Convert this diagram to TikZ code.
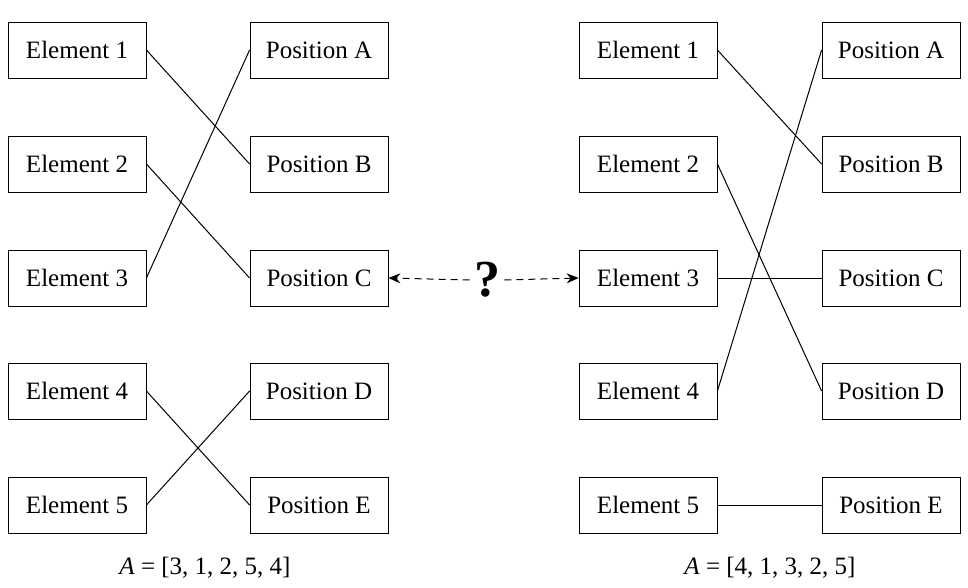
\documentclass[tikz,border=0pt]{standalone}
\usepackage{fontspec}
\setmainfont{Liberation Serif}
\usetikzlibrary{arrows.meta}
\tikzset{
  box/.style={draw, minimum width=69pt, minimum height=28pt, inner sep=0pt,
    font=\fontsize{12.5}{15}\selectfont},
  link/.style={line width=0.5pt},
  ask/.style={dash pattern=on 3.5pt off 2.5pt, line width=0.5pt,
    -{Stealth[length=6pt,width=5pt,inset=2pt]}}
}
\begin{document}
\begin{tikzpicture}[x=0.5pt,y=-0.5pt]
        \useasboundingbox (0,0) rectangle (968,588);

        % Boxes on both sides
        \foreach \i/\y/\p in {1/50/A,2/164/B,3/278/C,4/391/D,5/505/E} {
            \node[box] (le\i) at (77,\y) {Element \i};
            \node[box] (lp\p) at (319,\y) {Position \p};
            \node[box] (re\i) at (648,\y) {Element \i};
            \node[box] (rp\p) at (891,\y) {Position \p};
        }

        % Left mapping A = [3,1,2,5,4]
        \draw[link] (le1.east) -- (lpB.west);
        \draw[link] (le2.east) -- (lpC.west);
        \draw[link] (le3.east) -- (lpA.west);
        \draw[link] (le4.east) -- (lpE.west);
        \draw[link] (le5.east) -- (lpD.west);

        % Right mapping A = [4,1,3,2,5]
        \draw[link] (re1.east) -- (rpB.west);
        \draw[link] (re2.east) -- (rpD.west);
        \draw[link] (re3.east) -- (rpC.west);
        \draw[link] (re4.east) -- (rpA.west);
        \draw[link] (re5.east) -- (rpE.west);

        % Question between the two
        \node[font=\bfseries\fontsize{26}{28}\selectfont, inner sep=2pt] (q) at (487,280) {?};
        \draw[ask] (q.west) -- (lpC.east);
        \draw[ask] (q.east) -- (re3.west);

        % Captions
        \node[font=\fontsize{12.5}{15}\selectfont] (capl) at (205,568) {\textit{A} = [3, 1, 2, 5, 4]};
        \node[font=\fontsize{12.5}{15}\selectfont] (capr) at (770,568) {\textit{A} = [4, 1, 3, 2, 5]};
\end{tikzpicture}
\end{document}
